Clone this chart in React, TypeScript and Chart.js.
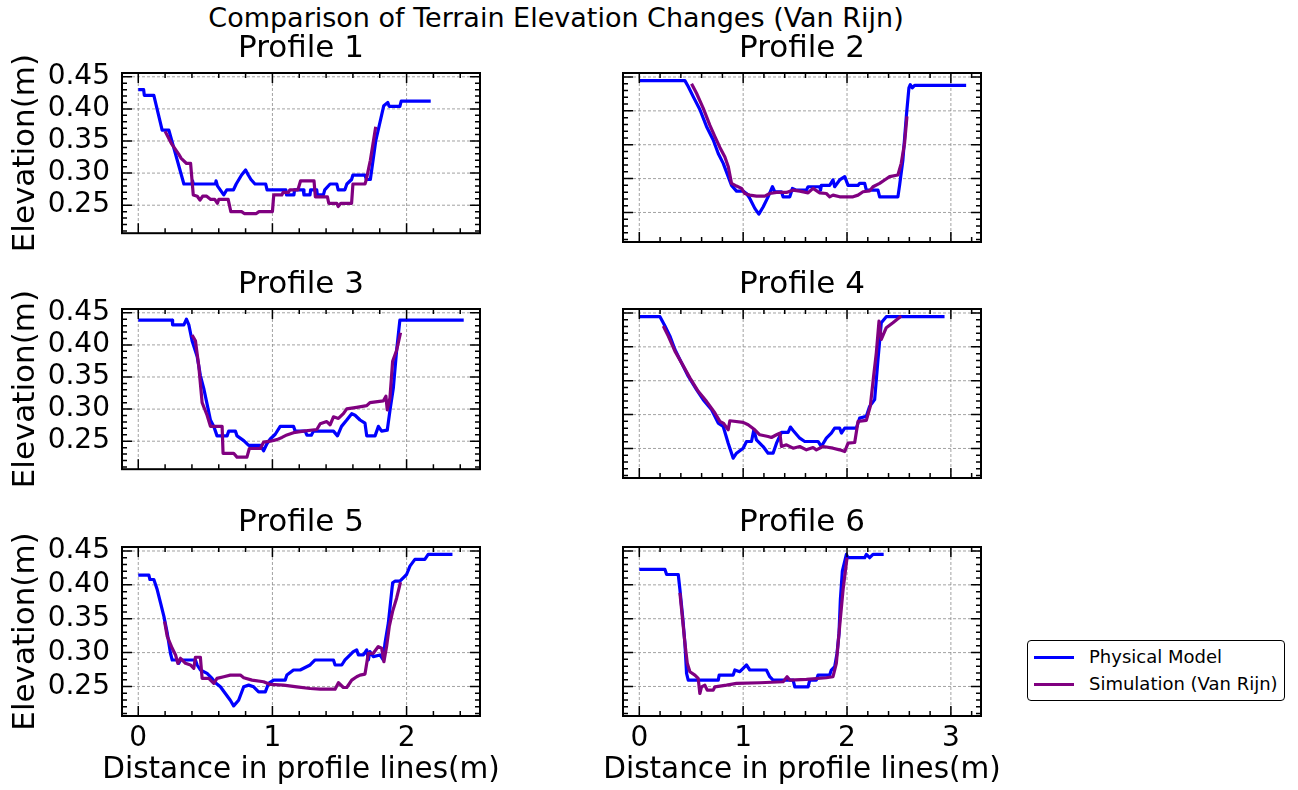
import React, { useEffect, useRef } from "react";
import { Chart, registerables } from "chart.js";
Chart.register(...registerables);

const FONT = "'DejaVu Sans', sans-serif";
const SUPTITLE = "Comparison of Terrain Elevation Changes (Van Rijn)";
const X_LABEL = "Distance in profile lines(m)";
const Y_LABEL = "Elevation(m)";
const SERIES_NAMES = ["Physical Model", "Simulation (Van Rijn)"];
const SERIES_COLORS = ["#0000ff", "#800080"];
const Y_TICKS_STEP = 0.05;
const X_TICKS_STEP = 1;

// ---------- Profile 1 ----------
const p1PhysX = [0, 0.04, 0.045, 0.116, 0.178, 0.228, 0.34, 0.40, 0.405, 0.41, 0.575, 0.58, 0.59, 0.637, 0.66, 0.71, 0.73, 0.75, 0.77, 0.80, 0.82, 0.84, 0.87, 0.95, 0.96, 1.10, 1.105, 1.16, 1.165, 1.23, 1.235, 1.28, 1.285, 1.33, 1.335, 1.38, 1.39, 1.43, 1.48, 1.49, 1.54, 1.555, 1.59, 1.60, 1.69, 1.70, 1.73, 1.77, 1.83, 1.86, 1.87, 1.95, 1.96, 2.18];
const p1PhysY = [0.430, 0.430, 0.421, 0.421, 0.367, 0.367, 0.283, 0.283, 0.288, 0.283, 0.283, 0.288, 0.280, 0.266, 0.274, 0.274, 0.283, 0.290, 0.297, 0.305, 0.297, 0.290, 0.283, 0.283, 0.274, 0.274, 0.266, 0.266, 0.274, 0.274, 0.266, 0.266, 0.274, 0.274, 0.266, 0.266, 0.274, 0.283, 0.283, 0.274, 0.274, 0.283, 0.290, 0.297, 0.297, 0.290, 0.290, 0.350, 0.405, 0.410, 0.404, 0.404, 0.412, 0.412];
const p1SimX = [0.20, 0.25, 0.30, 0.32, 0.36, 0.39, 0.41, 0.44, 0.46, 0.48, 0.51, 0.54, 0.57, 0.59, 0.60, 0.67, 0.69, 0.77, 0.79, 0.88, 0.90, 1.00, 1.01, 1.07, 1.08, 1.12, 1.13, 1.19, 1.21, 1.31, 1.32, 1.41, 1.42, 1.48, 1.49, 1.51, 1.59, 1.60, 1.69, 1.70, 1.72, 1.73, 1.77];
const p1SimY = [0.365, 0.345, 0.330, 0.323, 0.315, 0.315, 0.266, 0.264, 0.258, 0.264, 0.264, 0.259, 0.259, 0.253, 0.259, 0.259, 0.240, 0.240, 0.237, 0.237, 0.240, 0.240, 0.266, 0.266, 0.270, 0.270, 0.274, 0.274, 0.288, 0.288, 0.263, 0.263, 0.253, 0.253, 0.248, 0.253, 0.253, 0.283, 0.283, 0.290, 0.310, 0.320, 0.372];

// ---------- Profile 2 ----------
const p2PhysX = [0, 0.439, 0.471, 0.519, 0.583, 0.647, 0.712, 0.760, 0.808, 0.856, 0.888, 0.936, 1.0, 1.032, 1.064, 1.112, 1.151, 1.192, 1.240, 1.282, 1.304, 1.369, 1.385, 1.449, 1.474, 1.513, 1.609, 1.625, 1.737, 1.745, 1.753, 1.833, 1.865, 1.881, 1.929, 1.978, 2.010, 2.106, 2.122, 2.170, 2.186, 2.298, 2.314, 2.490, 2.506, 2.538, 2.571, 2.596, 2.609, 2.628, 2.651, 3.147];
const p2PhysY = [0.4446, 0.4446, 0.436, 0.421, 0.402, 0.377, 0.357, 0.337, 0.3225, 0.303, 0.290, 0.2815, 0.2815, 0.278, 0.2707, 0.256, 0.2475, 0.258, 0.273, 0.288, 0.2806, 0.2806, 0.273, 0.273, 0.2855, 0.283, 0.283, 0.288, 0.288, 0.283, 0.290, 0.290, 0.298, 0.288, 0.298, 0.303, 0.290, 0.290, 0.293, 0.293, 0.283, 0.283, 0.273, 0.273, 0.290, 0.3275, 0.392, 0.434, 0.4386, 0.434, 0.4376, 0.4376];
const p2SimX = [0.503, 0.551, 0.615, 0.679, 0.728, 0.776, 0.824, 0.856, 0.888, 0.936, 0.984, 1.016, 1.064, 1.128, 1.208, 1.256, 1.321, 1.417, 1.481, 1.545, 1.625, 1.673, 1.737, 1.801, 1.833, 1.865, 1.929, 2.058, 2.106, 2.154, 2.218, 2.25, 2.314, 2.362, 2.41, 2.49, 2.522, 2.554, 2.577];
const p2SimY = [0.440, 0.426, 0.404, 0.379, 0.362, 0.346, 0.332, 0.318, 0.293, 0.289, 0.2855, 0.278, 0.2756, 0.2741, 0.2741, 0.278, 0.2796, 0.2796, 0.283, 0.2815, 0.279, 0.2855, 0.279, 0.278, 0.2731, 0.2756, 0.2731, 0.2731, 0.2756, 0.2806, 0.282, 0.288, 0.293, 0.298, 0.303, 0.3053, 0.3225, 0.352, 0.392];

// ---------- Profile 3 ----------
const p3PhysX = [0, 0.253, 0.256, 0.340, 0.359, 0.377, 0.401, 0.439, 0.463, 0.488, 0.513, 0.538, 0.563, 0.587, 0.662, 0.674, 0.724, 0.736, 0.786, 0.823, 0.910, 0.934, 0.959, 0.984, 1.021, 1.058, 1.157, 1.170, 1.244, 1.257, 1.29, 1.306, 1.455, 1.485, 1.515, 1.554, 1.591, 1.616, 1.653, 1.690, 1.703, 1.765, 1.790, 1.814, 1.856, 1.876, 1.901, 1.926, 1.950, 2.426];
const p3PhysY = [0.4386, 0.4386, 0.4312, 0.4312, 0.4401, 0.4312, 0.4065, 0.3818, 0.3522, 0.3324, 0.3077, 0.283, 0.2731, 0.2583, 0.2583, 0.2657, 0.2657, 0.2583, 0.2509, 0.2435, 0.2435, 0.2351, 0.246, 0.2534, 0.2608, 0.2731, 0.2731, 0.2657, 0.2657, 0.2593, 0.2593, 0.2657, 0.2657, 0.2583, 0.2731, 0.283, 0.2929, 0.2904, 0.283, 0.2781, 0.2583, 0.2583, 0.2731, 0.2657, 0.2672, 0.2978, 0.3324, 0.3917, 0.4386, 0.4386];
const p3SimX = [0.401, 0.426, 0.451, 0.476, 0.513, 0.538, 0.625, 0.632, 0.711, 0.736, 0.810, 0.828, 0.910, 0.934, 0.984, 1.033, 1.071, 1.108, 1.157, 1.232, 1.331, 1.356, 1.405, 1.430, 1.455, 1.492, 1.529, 1.554, 1.628, 1.703, 1.727, 1.826, 1.846, 1.856, 1.876, 1.896, 1.926, 1.955];
const p3SimY = [0.4154, 0.4065, 0.367, 0.3102, 0.2904, 0.2731, 0.2731, 0.2312, 0.2312, 0.2252, 0.2252, 0.2386, 0.2386, 0.2485, 0.25, 0.2525, 0.2559, 0.2598, 0.2633, 0.2657, 0.2682, 0.2771, 0.2806, 0.2756, 0.288, 0.2855, 0.2929, 0.3003, 0.3028, 0.3053, 0.3102, 0.3127, 0.3201, 0.2988, 0.3176, 0.3744, 0.3917, 0.4189];

// ---------- Profile 4 ----------
const p4PhysX = [0, 0.199, 0.247, 0.295, 0.343, 0.407, 0.471, 0.551, 0.615, 0.696, 0.760, 0.808, 0.856, 0.904, 0.936, 1.0, 1.032, 1.080, 1.103, 1.128, 1.192, 1.240, 1.288, 1.321, 1.369, 1.433, 1.455, 1.481, 1.545, 1.593, 1.721, 1.753, 1.801, 1.849, 1.881, 1.929, 1.946, 1.978, 2.090, 2.122, 2.186, 2.218, 2.266, 2.298, 2.330, 2.378, 2.939];
const p4PhysY = [0.4446, 0.4446, 0.4307, 0.4159, 0.3962, 0.3764, 0.3566, 0.3369, 0.3221, 0.3072, 0.2875, 0.2825, 0.2578, 0.2356, 0.243, 0.2504, 0.2603, 0.2603, 0.2776, 0.2628, 0.2529, 0.243, 0.243, 0.2578, 0.2737, 0.2737, 0.2816, 0.2766, 0.2652, 0.2603, 0.2603, 0.2529, 0.2652, 0.2727, 0.2801, 0.2801, 0.2727, 0.2801, 0.2801, 0.2949, 0.2974, 0.3122, 0.3221, 0.3813, 0.4357, 0.4446, 0.4446];
const p4SimX = [0.231, 0.279, 0.343, 0.407, 0.487, 0.567, 0.647, 0.728, 0.776, 0.808, 0.856, 0.872, 1.0, 1.048, 1.112, 1.160, 1.240, 1.272, 1.321, 1.353, 1.369, 1.417, 1.481, 1.545, 1.609, 1.673, 1.705, 1.769, 1.865, 1.929, 1.978, 2.010, 2.074, 2.106, 2.186, 2.224, 2.256, 2.282, 2.308, 2.330, 2.378, 2.442, 2.522];
const p4SimY = [0.4307, 0.4159, 0.3937, 0.3764, 0.3542, 0.3344, 0.3196, 0.3023, 0.2899, 0.2875, 0.2776, 0.2909, 0.2885, 0.285, 0.2776, 0.2702, 0.2677, 0.2662, 0.2702, 0.2727, 0.2529, 0.2554, 0.2504, 0.2529, 0.248, 0.2514, 0.248, 0.2529, 0.2504, 0.248, 0.2455, 0.2578, 0.2588, 0.2899, 0.2914, 0.3122, 0.3566, 0.3912, 0.4381, 0.411, 0.4283, 0.4357, 0.4456];

// ---------- Profile 5 ----------
const p5PhysX = [0, 0.079, 0.087, 0.116, 0.141, 0.166, 0.191, 0.216, 0.240, 0.253, 0.290, 0.302, 0.315, 0.426, 0.439, 0.463, 0.513, 0.550, 0.575, 0.612, 0.649, 0.686, 0.711, 0.748, 0.786, 0.823, 0.860, 0.897, 0.947, 0.971, 1.009, 1.095, 1.108, 1.157, 1.207, 1.281, 1.318, 1.455, 1.467, 1.517, 1.541, 1.566, 1.603, 1.628, 1.641, 1.678, 1.703, 1.715, 1.727, 1.752, 1.802, 1.826, 1.839, 1.864, 1.896, 1.913, 1.950, 1.975, 2.0, 2.025, 2.062, 2.136, 2.161, 2.342];
const p5PhysY = [0.4144, 0.4144, 0.4079, 0.4079, 0.3931, 0.3733, 0.3535, 0.3287, 0.299, 0.2891, 0.2891, 0.2842, 0.2891, 0.2891, 0.2817, 0.2743, 0.2693, 0.2619, 0.2555, 0.2495, 0.2396, 0.2297, 0.2213, 0.2297, 0.2495, 0.252, 0.2495, 0.2421, 0.2421, 0.2545, 0.2594, 0.2594, 0.2668, 0.2743, 0.2743, 0.2817, 0.2891, 0.2891, 0.2817, 0.2817, 0.2891, 0.2941, 0.3015, 0.304, 0.2965, 0.2965, 0.304, 0.2891, 0.3015, 0.2941, 0.2965, 0.2891, 0.3139, 0.3436, 0.403, 0.4054, 0.4054, 0.4104, 0.4153, 0.4277, 0.4376, 0.4376, 0.445, 0.445];
const p5SimX = [0.196, 0.216, 0.253, 0.278, 0.295, 0.315, 0.352, 0.389, 0.414, 0.426, 0.463, 0.476, 0.525, 0.563, 0.587, 0.637, 0.686, 0.761, 0.786, 0.848, 0.934, 0.984, 1.083, 1.182, 1.281, 1.356, 1.467, 1.492, 1.529, 1.554, 1.591, 1.628, 1.653, 1.690, 1.715, 1.752, 1.789, 1.814, 1.831, 1.851, 1.871, 1.896, 1.926, 1.955];
const p5SimY = [0.346, 0.3238, 0.3064, 0.2965, 0.2842, 0.2916, 0.2842, 0.2817, 0.2767, 0.2931, 0.2931, 0.2619, 0.2619, 0.2545, 0.2619, 0.2644, 0.2668, 0.2668, 0.2629, 0.2594, 0.257, 0.253, 0.252, 0.2495, 0.247, 0.246, 0.246, 0.2555, 0.2485, 0.2485, 0.2594, 0.2644, 0.2668, 0.2683, 0.299, 0.299, 0.3089, 0.3064, 0.2866, 0.3089, 0.3386, 0.3609, 0.3807, 0.404];

// ---------- Profile 6 ----------
const p6PhysX = [0, 0.247, 0.263, 0.375, 0.391, 0.417, 0.439, 0.455, 0.471, 0.760, 0.769, 0.904, 0.920, 0.968, 1.0, 1.032, 1.064, 1.224, 1.256, 1.288, 1.481, 1.497, 1.625, 1.641, 1.705, 1.721, 1.833, 1.849, 1.881, 1.904, 1.923, 1.936, 1.955, 1.994, 2.010, 2.170, 2.186, 2.218, 2.25, 2.353];
const p6PhysY = [0.4228, 0.4228, 0.4153, 0.4153, 0.3931, 0.3535, 0.3139, 0.2693, 0.2594, 0.2594, 0.2668, 0.2668, 0.2743, 0.2718, 0.2767, 0.2817, 0.2743, 0.2743, 0.2644, 0.2594, 0.2594, 0.2495, 0.2495, 0.2594, 0.2594, 0.2668, 0.2668, 0.2743, 0.2792, 0.299, 0.3287, 0.3782, 0.4203, 0.445, 0.4401, 0.4401, 0.445, 0.4401, 0.445, 0.445];
const p6SimX = [0.391, 0.417, 0.439, 0.462, 0.487, 0.535, 0.567, 0.583, 0.599, 0.631, 0.654, 0.712, 0.728, 0.840, 0.936, 1.160, 1.385, 1.423, 1.449, 1.609, 1.801, 1.865, 1.897, 1.929, 1.962, 2.0];
const p6SimY = [0.3881, 0.3485, 0.3139, 0.2842, 0.2718, 0.2668, 0.2619, 0.2396, 0.2495, 0.252, 0.2446, 0.2446, 0.2495, 0.252, 0.2545, 0.2555, 0.257, 0.2644, 0.2594, 0.2604, 0.2629, 0.2644, 0.2842, 0.3386, 0.3931, 0.4401];

const PROFILE_TITLES = ["Profile 1", "Profile 2", "Profile 3", "Profile 4", "Profile 5", "Profile 6"];
const PHYS_X = [p1PhysX, p2PhysX, p3PhysX, p4PhysX, p5PhysX, p6PhysX];
const PHYS_Y = [p1PhysY, p2PhysY, p3PhysY, p4PhysY, p5PhysY, p6PhysY];
const SIM_X = [p1SimX, p2SimX, p3SimX, p4SimX, p5SimX, p6SimX];
const SIM_Y = [p1SimY, p2SimY, p3SimY, p4SimY, p5SimY, p6SimY];

// axis limits (shared y; shared x per column)
const Y_MIN = 0.2064;
const Y_MAX = 0.4559;
const X_LIMITS = [[-0.1213, 2.5473], [-0.157, 3.29]];

// layout (px)
const COL_LEFT = [0, 570];
const COL_WIDTH = [550, 450];
const Y_AXIS_W = [122, 53];
const PAD_RIGHT = [70, 39];
const ROW_CHART_TOP = [73, 309, 547];
const PLOT_H = 169;
const TITLE_BOX = 43;
const X_AXIS_H = [20, 20, 74];
const TITLE_SIZE = 31;
const Y_LABEL_SIZE = 31;
const X_LABEL_SIZE = 29.5;
const TICK_SIZE = 28;
const X_LABEL_BASELINE = 778; // page px
const Y_LABEL_BASELINE = 34; // page px (rotated)

const toPts = (xs: number[], ys: number[]) => xs.map((x, i) => ({ x, y: ys[i] }));

const mplAxes = {
  id: "mplAxes",
  beforeDatasetsDraw(chart: any) {
    const { ctx, chartArea: a, scales } = chart;
    const x = scales.x, y = scales.y;
    ctx.save();
    ctx.strokeStyle = "#8a8a8a";
    ctx.lineWidth = 0.8;
    ctx.setLineDash([3, 2]);
    for (let k = Math.ceil(x.min); k <= Math.floor(x.max); k++) {
      const px = x.getPixelForValue(k);
      ctx.beginPath();
      ctx.moveTo(px, a.top);
      ctx.lineTo(px, a.bottom);
      ctx.stroke();
    }
    for (let k = Math.ceil(y.min * 20); k <= Math.floor(y.max * 20); k++) {
      const py = y.getPixelForValue(k / 20);
      ctx.beginPath();
      ctx.moveTo(a.left, py);
      ctx.lineTo(a.right, py);
      ctx.stroke();
    }
    ctx.restore();
  },
  afterDatasetsDraw(chart: any) {
    const { ctx, chartArea: a, scales } = chart;
    const x = scales.x, y = scales.y;
    ctx.save();
    ctx.strokeStyle = "#000";
    ctx.lineWidth = 1.5;
    ctx.beginPath();
    for (let k = Math.ceil(x.min * 5); k <= Math.floor(x.max * 5); k++) {
      const len = k % 5 === 0 ? 10 : 5;
      const px = x.getPixelForValue(k / 5);
      ctx.moveTo(px, a.bottom);
      ctx.lineTo(px, a.bottom - len);
      ctx.moveTo(px, a.top);
      ctx.lineTo(px, a.top + len);
    }
    for (let k = Math.ceil(y.min * 100); k <= Math.floor(y.max * 100); k++) {
      const len = k % 5 === 0 ? 10 : 5;
      const py = y.getPixelForValue(k / 100);
      ctx.moveTo(a.left, py);
      ctx.lineTo(a.left + len, py);
      ctx.moveTo(a.right, py);
      ctx.lineTo(a.right - len, py);
    }
    ctx.stroke();
    ctx.lineWidth = 2;
    ctx.strokeRect(a.left, a.top, a.right - a.left, a.bottom - a.top);
    ctx.restore();
  },
  afterDraw(chart: any, _args: any, opts: any) {
    const { ctx, chartArea: a } = chart;
    ctx.save();
    ctx.fillStyle = "#000";
    ctx.textBaseline = "alphabetic";
    ctx.textAlign = "center";
    if (opts.xLabel) {
      ctx.font = `${X_LABEL_SIZE}px ${FONT}`;
      ctx.fillText(opts.xLabel, (a.left + a.right) / 2, X_LABEL_BASELINE - opts.canvasTop);
    }
    if (opts.yLabel) {
      ctx.font = `${Y_LABEL_SIZE}px ${FONT}`;
      ctx.translate(Y_LABEL_BASELINE - opts.canvasLeft, (a.top + a.bottom) / 2);
      ctx.rotate(-Math.PI / 2);
      ctx.fillText(opts.yLabel, 0, 0);
    }
    ctx.restore();
  },
};

function Panel({ idx }: { idx: number }) {
  const ref = useRef<HTMLCanvasElement>(null);
  const col = idx % 2;
  const row = Math.floor(idx / 2);
  const left = COL_LEFT[col];
  const width = COL_WIDTH[col];
  const top = ROW_CHART_TOP[row] - TITLE_BOX;
  const height = TITLE_BOX + PLOT_H + X_AXIS_H[row];
  const showX = row === 2;
  const showY = col === 0;

  useEffect(() => {
    const chart = new Chart(ref.current as HTMLCanvasElement, {
      type: "line",
      data: {
        datasets: [
          {
            label: SERIES_NAMES[0],
            data: toPts(PHYS_X[idx], PHYS_Y[idx]),
            borderColor: SERIES_COLORS[0],
            borderWidth: 3.2,
            pointRadius: 0,
            tension: 0,
            fill: false,
            borderJoinStyle: "round",
            order: 1,
          },
          {
            label: SERIES_NAMES[1],
            data: toPts(SIM_X[idx], SIM_Y[idx]),
            borderColor: SERIES_COLORS[1],
            borderWidth: 3.2,
            pointRadius: 0,
            tension: 0,
            fill: false,
            borderJoinStyle: "round",
            order: 0,
          },
        ],
      },
      options: {
        responsive: false,
        animation: false,
        devicePixelRatio: 1,
        events: [],
        layout: { padding: { left: 0, right: PAD_RIGHT[col], top: 0, bottom: 0 } },
        plugins: {
          legend: { display: false },
          tooltip: { enabled: false },
          title: {
            display: true,
            text: PROFILE_TITLES[idx],
            fullSize: false,
            color: "#000",
            font: { family: FONT, size: TITLE_SIZE, weight: "normal", lineHeight: 1.25 },
            padding: { top: 0, bottom: TITLE_BOX - TITLE_SIZE * 1.25 },
          },
          mplAxes: {
            xLabel: showX ? X_LABEL : null,
            yLabel: showY ? Y_LABEL : null,
            canvasTop: top,
            canvasLeft: left,
          },
        },
        scales: {
          x: {
            type: "linear",
            min: X_LIMITS[col][0],
            max: X_LIMITS[col][1],
            afterFit: (s: any) => {
              s.height = X_AXIS_H[row];
            },
            grid: { display: false, drawTicks: false, tickLength: 0 },
            border: { display: false },
            ticks: {
              display: showX,
              stepSize: X_TICKS_STEP,
              includeBounds: false,
              autoSkip: false,
              maxRotation: 0,
              padding: 6,
              color: "#000",
              font: { family: FONT, size: TICK_SIZE },
              callback: (v: any) => String(Math.round(Number(v))),
            },
            title: { display: false },
          },
          y: {
            type: "linear",
            min: Y_MIN,
            max: Y_MAX,
            afterFit: (s: any) => {
              s.width = Y_AXIS_W[col];
            },
            grid: { display: false, drawTicks: false, tickLength: 0 },
            border: { display: false },
            ticks: {
              display: showY,
              stepSize: Y_TICKS_STEP,
              includeBounds: false,
              autoSkip: false,
              padding: 12,
              color: "#000",
              font: { family: FONT, size: TICK_SIZE },
              callback: (v: any) => Number(v).toFixed(2),
            },
            title: { display: false },
          },
        },
      } as any,
      plugins: [mplAxes],
    });
    return () => chart.destroy();
  }, []);

  return (
    <canvas
      ref={ref}
      width={width}
      height={height}
      style={{ position: "absolute", left, top, width, height }}
    />
  );
}

function Legend() {
  const item = (i: number, cy: number) => (
    <React.Fragment key={i}>
      <div
        style={{
          position: "absolute",
          left: 6,
          top: cy - 1.5,
          width: 40,
          height: 3,
          background: SERIES_COLORS[i],
        }}
      />
      <div
        style={{
          position: "absolute",
          left: 61,
          top: cy - 11,
          height: 22,
          lineHeight: "22px",
          fontSize: 18,
          fontFamily: FONT,
          color: "#000",
          whiteSpace: "nowrap",
        }}
      >
        {SERIES_NAMES[i]}
      </div>
    </React.Fragment>
  );
  return (
    <div
      style={{
        position: "absolute",
        left: 1027,
        top: 640,
        width: 258,
        height: 61,
        border: "1px solid #000",
        borderRadius: 4,
        boxSizing: "border-box",
        background: "#fff",
      }}
    >
      {item(0, 16)}
      {item(1, 43)}
    </div>
  );
}

export default function App() {
  return (
    <div
      style={{
        position: "absolute",
        left: 0,
        top: 0,
        width: 1298,
        height: 790,
        background: "#fff",
        overflow: "hidden",
      }}
    >
      <div
        style={{
          position: "absolute",
          left: 0,
          top: 4,
          width: 1112,
          textAlign: "center",
          fontFamily: FONT,
          fontSize: 27,
          lineHeight: "27px",
          color: "#000",
          whiteSpace: "nowrap",
        }}
      >
        {SUPTITLE}
      </div>
      {[0, 1, 2, 3, 4, 5].map((i) => (
        <Panel key={i} idx={i} />
      ))}
      <Legend />
    </div>
  );
}
